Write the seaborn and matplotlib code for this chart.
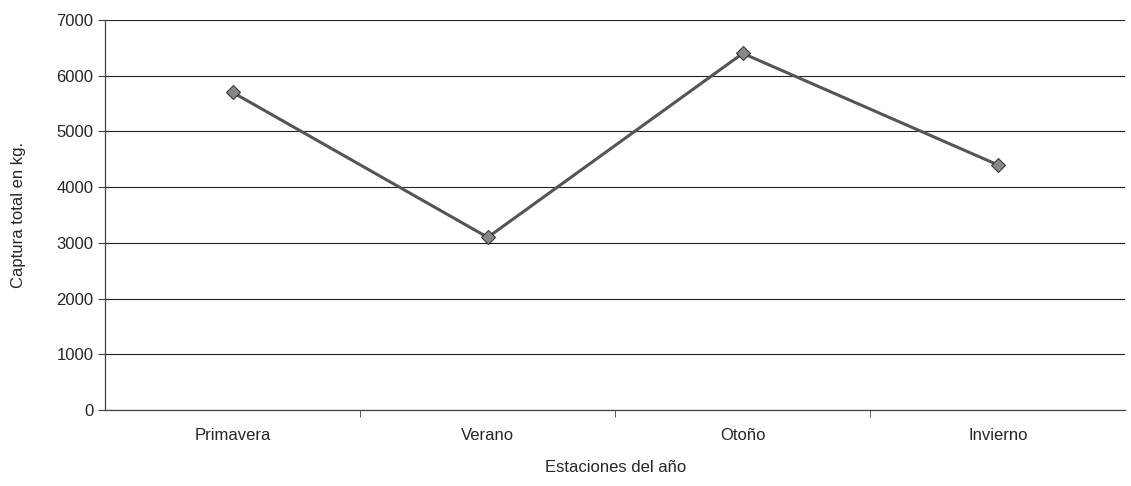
import matplotlib
matplotlib.use("Agg")
import matplotlib.pyplot as plt
import seaborn as sns
import pandas as pd
from matplotlib.ticker import FixedLocator

estaciones = ["Primavera", "Verano", "Otoño", "Invierno"]
captura = [5700, 3100, 6400, 4400]
y_ticks = [0, 1000, 2000, 3000, 4000, 5000, 6000, 7000]

df = pd.DataFrame({"estacion": estaciones, "captura": captura})

sns.set_style("white")
plt.rcParams["font.family"] = ["Liberation Sans", "DejaVu Sans"]

fig = plt.figure(figsize=(11.31, 4.86), dpi=100)
ax = fig.add_axes([0.093, 0.156, 0.902, 0.803])

sns.lineplot(data=df, x="estacion", y="captura", ax=ax, color="#555555",
             linewidth=2.2, marker="D", markersize=7,
             markerfacecolor="#888888", markeredgecolor="#333333", sort=False)

ax.set_xlim(-0.5, len(estaciones) - 0.5)
ax.set_ylim(0, 7000)
ax.set_yticks(y_ticks)
ax.yaxis.grid(True, color="#222222", linewidth=0.8)
ax.set_axisbelow(True)

ax.tick_params(axis="x", length=0, labelsize=12, pad=13)
ax.tick_params(axis="y", length=5, labelsize=12, left=True, color="#444444")
ax.xaxis.set_minor_locator(FixedLocator([0.5, 1.5, 2.5]))
ax.tick_params(axis="x", which="minor", length=5, bottom=True, color="#444444")

for side in ["top", "right"]:
    ax.spines[side].set_visible(False)
for side in ["left", "bottom"]:
    ax.spines[side].set_color("#444444")
    ax.spines[side].set_linewidth(0.9)

ax.set_xlabel("Estaciones del año", fontsize=12, labelpad=12)
ax.set_ylabel("Captura total en kg.", fontsize=12, labelpad=22)

fig.savefig("out.png", dpi=100, facecolor="white")
